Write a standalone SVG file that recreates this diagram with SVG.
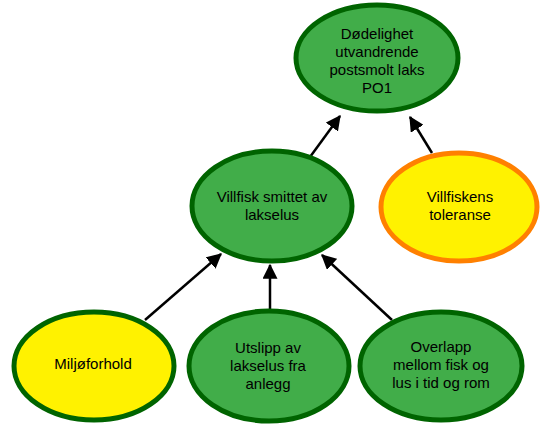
<svg xmlns="http://www.w3.org/2000/svg" width="551" height="431" viewBox="0 0 551 431">
<style>
.g{fill:#41ad49;stroke:#006400;stroke-width:5}
.y{fill:#fff200;stroke:#006400;stroke-width:5}
.o{fill:#fff200;stroke:#ff8000;stroke-width:5}
text{font-family:"Liberation Sans",Arial,sans-serif;font-size:15px;fill:#000;text-anchor:middle}
.c{stroke:#000;stroke-width:2.5;fill:none;marker-end:url(#ah)}
</style>
<defs>
<marker id="ah" markerWidth="6" markerHeight="6" refX="5.5" refY="3" orient="auto" markerUnits="strokeWidth" viewBox="0 0 6 6">
<path d="M0,0 L6,3 L0,6 z" fill="#000"/>
</marker>
</defs>
<g id="connectors">
<line class="c" x1="310" y1="157" x2="340" y2="116"/>
<line class="c" x1="432" y1="153" x2="410" y2="117"/>
<line class="c" x1="145" y1="320" x2="221" y2="254"/>
<line class="c" x1="270" y1="310" x2="270" y2="265"/>
<line class="c" x1="392" y1="320" x2="322" y2="255"/>
</g>
<g id="n_dodelighet">
<ellipse class="g" cx="377" cy="58" rx="81" ry="53"/>
<text x="377" y="39"><tspan x="377">Dødelighet</tspan><tspan x="377" dy="18">utvandrende</tspan><tspan x="377" dy="18">postsmolt laks</tspan><tspan x="377" dy="18">PO1</tspan></text>
</g>
<g id="n_toleranse">
<ellipse class="o" cx="459" cy="207" rx="78" ry="54"/>
<text x="460" y="202"><tspan x="460">Villfiskens</tspan><tspan x="460" dy="18">toleranse</tspan></text>
</g>
<g id="n_villfisk">
<ellipse class="g" cx="272" cy="206" rx="80" ry="55"/>
<text x="272" y="202"><tspan x="272">Villfisk smittet av</tspan><tspan x="272" dy="18">lakselus</tspan></text>
</g>
<g id="n_miljo">
<ellipse class="y" cx="94" cy="366" rx="80" ry="54"/>
<text x="93" y="369">Miljøforhold</text>
</g>
<g id="n_utslipp">
<ellipse class="g" cx="269" cy="366" rx="80" ry="55"/>
<text x="268" y="353"><tspan x="268">Utslipp av</tspan><tspan x="268" dy="18">lakselus fra</tspan><tspan x="268" dy="18">anlegg</tspan></text>
</g>
<g id="n_overlapp">
<ellipse class="g" cx="441" cy="366" rx="81" ry="54"/>
<text x="441" y="352"><tspan x="441">Overlapp</tspan><tspan x="441" dy="18">mellom fisk og</tspan><tspan x="441" dy="18">lus i tid og rom</tspan></text>
</g>
</svg>
